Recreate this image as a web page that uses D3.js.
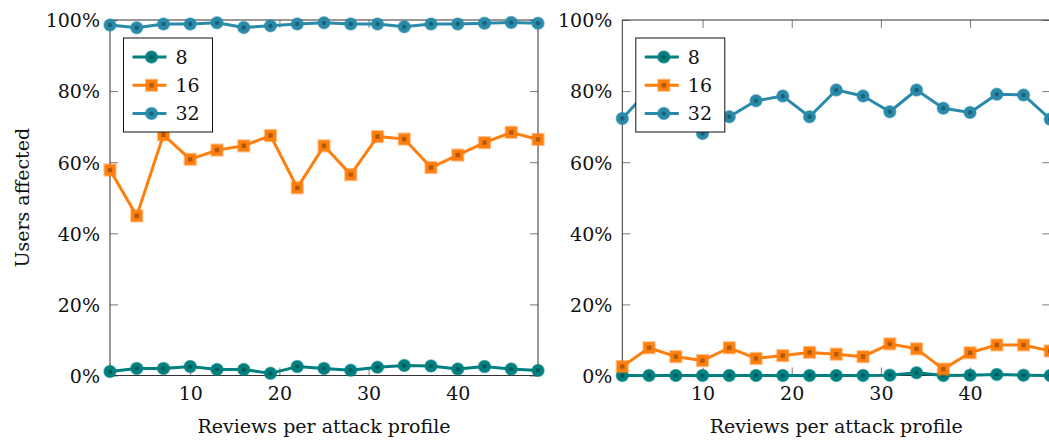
<!DOCTYPE html>
<html>
<head>
<meta charset="utf-8">
<script src="https://cdn.jsdelivr.net/npm/d3@7"></script>
<style>
  html, body { margin: 0; padding: 0; background: #fff; }
  svg { display: block; }
  text { font-family: "DejaVu Serif", serif; fill: #111; }
</style>
</head>
<body>
<svg id="chart" width="1049" height="441"></svg>
<script>
// ---- data ----
const reviews = [1, 4, 7, 10, 13, 16, 19, 22, 25, 28, 31, 34, 37, 40, 43, 46, 49];
const seriesNames = ["8", "16", "32"];
const yTicks = [0, 20, 40, 60, 80, 100];
const xTicks = [10, 20, 30, 40];

// left panel
const left8  = [1.1, 2.0, 2.0, 2.5, 1.7, 1.7, 0.6, 2.5, 2.0, 1.5, 2.3, 2.8, 2.7, 1.8, 2.5, 1.8, 1.4];
const left16 = [57.8, 44.9, 67.7, 60.8, 63.4, 64.6, 67.5, 52.8, 64.6, 56.5, 67.2, 66.5, 58.5, 62.0, 65.5, 68.4, 66.4];
const left32 = [98.6, 97.8, 98.9, 98.9, 99.2, 97.9, 98.4, 98.9, 99.2, 98.9, 98.9, 98.1, 98.9, 98.9, 99.1, 99.3, 99.1];

// right panel
const right8  = [0, 0, 0, 0, 0, 0, 0, 0, 0, 0, 0.1, 0.8, 0, 0.1, 0.3, 0.1, 0];
const right16 = [2.5, 7.8, 5.3, 4.2, 7.8, 4.8, 5.6, 6.5, 6.0, 5.3, 8.9, 7.5, 1.8, 6.4, 8.6, 8.6, 6.9];
const right32 = [72.3, 80.4, 74.5, 68.1, 72.8, 77.3, 78.6, 72.8, 80.3, 78.6, 74.2, 80.3, 75.2, 74.0, 79.1, 78.9, 72.1];

const xLabel = "Reviews per attack profile";
const yLabel = "Users affected";

// ---- style ----
const colors = { "8": "#008080", "16": "#ff7f0e", "32": "#2a8aaa" };
const markers = { "8": "circle", "16": "square", "32": "circle" };
const FONT = 19;

const svg = d3.select("#chart");

const y = d3.scaleLinear().domain([0, 100]).range([375.5, 20]);

function drawMarker(g, type, cx, cy, color) {
  const dark = d3.interpolateRgb(color, "#000")(0.3);
  if (type === "circle") {
    g.append("circle").attr("cx", cx).attr("cy", cy).attr("r", 6)
      .attr("fill", color).attr("stroke", color).attr("stroke-opacity", 0.55).attr("stroke-width", 1.5);
    g.append("circle").attr("cx", cx).attr("cy", cy).attr("r", 2.2).attr("fill", dark);
  } else {
    g.append("rect").attr("x", cx - 5.5).attr("y", cy - 5.5).attr("width", 11).attr("height", 11)
      .attr("fill", color).attr("stroke", color).attr("stroke-opacity", 0.5).attr("stroke-width", 2.2);
    g.append("rect").attr("x", cx - 2.2).attr("y", cy - 2.2).attr("width", 4.4).attr("height", 4.4).attr("fill", dark);
  }
}

function panel(x0, x1, data, showYLabel) {
  const x = d3.scaleLinear().domain([1, 49]).range([x0, x1]);
  const g = svg.append("g");

  // axes with inward ticks
  const tickStroke = "#7a7a7a";
  const axL = g.append("g").attr("transform", `translate(${x0},0)`)
    .call(d3.axisLeft(y).tickValues(yTicks).tickSizeInner(-8).tickSizeOuter(0).tickPadding(10).tickFormat(d => d + "%"));
  const axR = g.append("g").attr("transform", `translate(${x1},0)`)
    .call(d3.axisRight(y).tickValues(yTicks).tickSizeInner(-8).tickSizeOuter(0).tickFormat(""));
  const axB = g.append("g").attr("transform", `translate(0,${y(0)})`)
    .call(d3.axisBottom(x).tickValues(xTicks).tickSizeInner(-8).tickSizeOuter(0).tickPadding(11));
  const axT = g.append("g").attr("transform", `translate(0,${y(100)})`)
    .call(d3.axisTop(x).tickValues(xTicks).tickSizeInner(-8).tickSizeOuter(0).tickFormat(""));
  [axL, axR, axB, axT].forEach(a => {
    a.select(".domain").remove();
    a.selectAll(".tick line").attr("stroke", tickStroke).attr("stroke-width", 1);
    a.selectAll("text").attr("font-family", '"DejaVu Serif", serif').attr("font-size", FONT).attr("fill", "#111");
  });
  axL.selectAll("text").attr("dy", "0.36em");

  // frame
  g.append("rect").attr("x", x0).attr("y", y(100)).attr("width", x1 - x0).attr("height", y(0) - y(100))
    .attr("fill", "none").attr("stroke", "#333").attr("stroke-width", 1);

  // series
  const line = d3.line().x((d, i) => x(reviews[i])).y(d => y(d));
  seriesNames.forEach((name, si) => {
    const vals = data[si];
    const c = colors[name];
    g.append("path").datum(vals).attr("d", line).attr("fill", "none")
      .attr("stroke", c).attr("stroke-width", 3).attr("stroke-linejoin", "round");
    const mg = g.append("g");
    vals.forEach((v, i) => drawMarker(mg, markers[name], x(reviews[i]), y(v), c));
  });

  // legend
  const lx = x0 + 13.5, ly = 38;
  const lg = g.append("g");
  lg.append("rect").attr("x", lx).attr("y", ly).attr("width", 89).attr("height", 94)
    .attr("fill", "#fff").attr("stroke", "#111").attr("stroke-width", 1);
  seriesNames.forEach((name, si) => {
    const cy = ly + 19 + si * 28.3;
    const c = colors[name];
    lg.append("line").attr("x1", lx + 9).attr("x2", lx + 43).attr("y1", cy).attr("y2", cy)
      .attr("stroke", c).attr("stroke-width", 3);
    drawMarker(lg, markers[name], lx + 28, cy, c);
    lg.append("text").attr("x", lx + 52).attr("y", cy).attr("dy", "0.36em")
      .attr("font-size", FONT).text(name);
  });

  // x label
  g.append("text").attr("x", (x0 + x1) / 2).attr("y", 433).attr("text-anchor", "middle")
    .attr("font-size", FONT).text(xLabel);

  if (showYLabel) {
    g.append("text").attr("transform", `translate(29,${(y(0) + y(100)) / 2}) rotate(-90)`)
      .attr("text-anchor", "middle").attr("font-size", FONT).text(yLabel);
  }
}

panel(110, 538, [left8, left16, left32], true);
panel(622.3, 1050.3, [right8, right16, right32], false);
</script>
</body>
</html>
